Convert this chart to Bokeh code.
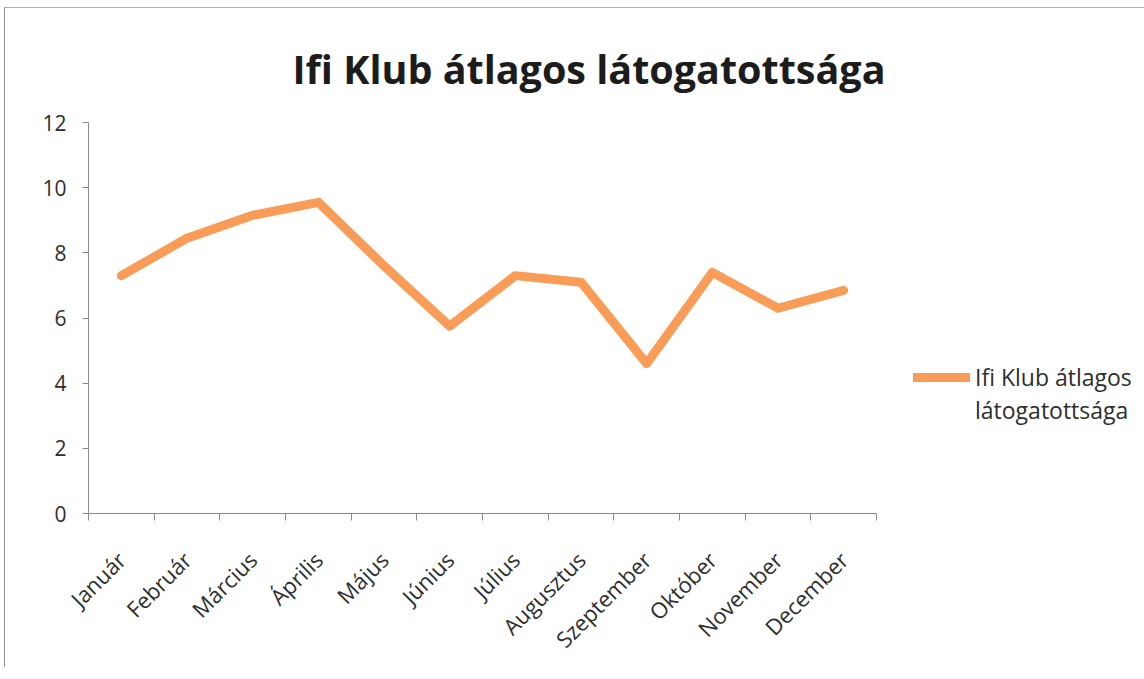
import math
from bokeh.plotting import figure
from bokeh.models import FixedTicker, Range1d, Legend, LegendItem, ColumnDataSource
from bokeh.embed import file_html
from bokeh.resources import INLINE

# ---- data ----
title_text = "Ifi Klub átlagos látogatottsága"
legend_lines = ["Ifi Klub átlagos", "látogatottsága"]
months = ["Január", "Február", "Március", "Április", "Május", "Június",
          "Július", "Augusztus", "Szeptember", "Október", "November", "December"]
values = [7.3, 8.45, 9.15, 9.55, 7.6, 5.75, 7.3, 7.1, 4.6, 7.4, 6.3, 6.85]
y_ticks = [0, 2, 4, 6, 8, 10, 12]

x_pos = [i + 0.5 for i in range(len(months))]
boundaries = list(range(len(months) + 1))

FONT = "Open Sans"
LINE_COLOR = "#F89C58"
AXIS_COLOR = "#8a8a8a"
TEXT_COLOR = "#2e2e2e"

p = figure(
    frame_width=788, frame_height=391,
    min_border_left=83, min_border_right=260,
    min_border_top=114, min_border_bottom=150,
    x_range=Range1d(0, len(months)), y_range=Range1d(0, 12),
    output_backend="svg", toolbar_location=None,
    title=title_text,
)
p.styles = {"margin-left": "4px", "margin-top": "7px",
            "border-left": "1px solid #8c8c8c", "border-top": "1px solid #b0b0b0"}
p.outline_line_color = None
p.background_fill_color = "white"
p.border_fill_color = "white"
p.xgrid.visible = False
p.ygrid.visible = False

p.title.align = "left"
p.title.offset = 204
p.title.text_font = FONT
p.title.text_font_style = "bold"
p.title.text_font_size = "39.5px"
p.title.text_color = "#1c1c1c"
p.title.standoff = 54

# y axis
p.yaxis.ticker = FixedTicker(ticks=y_ticks)
p.yaxis.axis_line_color = AXIS_COLOR
p.yaxis.major_tick_line_color = AXIS_COLOR
p.yaxis.major_tick_in = 0
p.yaxis.major_tick_out = 6
p.yaxis.minor_tick_line_color = None
p.yaxis.major_label_standoff = 16
p.yaxis.major_label_text_font = FONT
p.yaxis.major_label_text_font_size = "21px"
p.yaxis.major_label_text_color = TEXT_COLOR

# x axis: labels at category centres, ticks at category boundaries
p.xaxis.ticker = FixedTicker(ticks=x_pos, minor_ticks=boundaries)
p.xaxis.major_label_overrides = {x: m for x, m in zip(x_pos, months)}
p.xaxis.axis_line_color = AXIS_COLOR
p.xaxis.major_tick_in = 0
p.xaxis.major_tick_out = 0
p.xaxis.major_tick_line_color = None
p.xaxis.minor_tick_in = 0
p.xaxis.minor_tick_out = 7
p.xaxis.minor_tick_line_color = AXIS_COLOR
p.xaxis.major_label_orientation = math.pi / 4
p.xaxis.major_label_standoff = 35
p.xaxis.major_label_text_font = FONT
p.xaxis.major_label_text_font_size = "22px"
p.xaxis.major_label_text_color = TEXT_COLOR

src = ColumnDataSource(dict(x=x_pos, y=values))
r = p.line("x", "y", source=src, line_color=LINE_COLOR, line_width=9,
           line_cap="round", line_join="round")
r_blank = p.line(x=[], y=[], line_alpha=0)

legend = Legend(
    items=[LegendItem(label=legend_lines[0], renderers=[r]),
           LegendItem(label=legend_lines[1], renderers=[r_blank])],
    location=(37, 87),
    padding=0, margin=0, spacing=1,
    glyph_width=57, glyph_height=20, label_height=20, label_standoff=5,
    border_line_color=None, background_fill_alpha=0,
    label_text_font=FONT, label_text_font_size="23px", label_text_color=TEXT_COLOR,
)
p.add_layout(legend, "right")

open("out.html", "w").write(file_html(p, INLINE))
